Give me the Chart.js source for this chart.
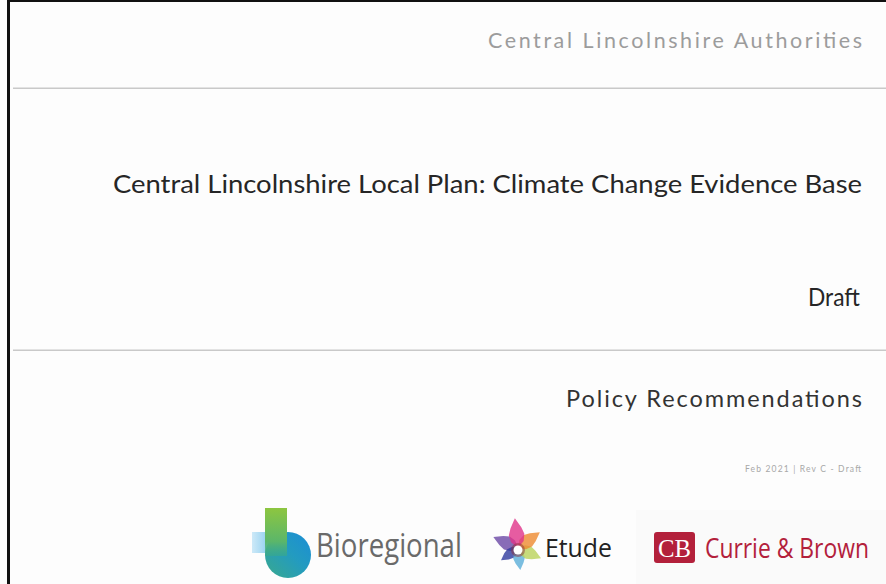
<!DOCTYPE html>
<html lang="en">
<head>
  <meta charset="UTF-8">
  <title>Central Lincolnshire Local Plan: Climate Change Evidence Base</title>
  <style>
    body {
      margin: 0;
      width: 886px;
      height: 584px;
      overflow: hidden;
      background: #fdfdfd;
      font-family: Lato, "Open Sans", sans-serif;
    }
    #cover {
      position: absolute;
      left: 0;
      top: 0;
    }
    #etudeMark {
      position: absolute;
      left: 488px;
      top: 518px;
    }
  </style>
</head>
<body>
  <svg id="cover" width="886" height="584" viewBox="0 0 886 584">
    <defs>
      <linearGradient id="stem" x1="0" y1="0" x2="0" y2="1">
        <stop offset="0" stop-color="#8dc640"/>
        <stop offset="0.7" stop-color="#5bb66a"/>
        <stop offset="1" stop-color="#38a98a" stop-opacity="0.6"/>
      </linearGradient>
      <linearGradient id="bowl" x1="0" y1="1" x2="1" y2="0">
        <stop offset="0" stop-color="#3aa98c"/>
        <stop offset="0.55" stop-color="#239bc0"/>
        <stop offset="1" stop-color="#1b8dd6"/>
      </linearGradient>
      <linearGradient id="tab" x1="0" y1="0" x2="1" y2="0">
        <stop offset="0" stop-color="#cde9f8"/>
        <stop offset="1" stop-color="#8ccdee"/>
      </linearGradient>
    </defs>

    <!-- frame -->
    <rect x="7" y="0" width="879" height="2" fill="#111"/>
    <rect x="7" y="0" width="3" height="584" fill="#111"/>

    <text x="488" y="48" font-size="21.5" fill="#9c9c9c" textLength="374">Central Lincolnshire Authorities</text>
    <rect x="13" y="87.5" width="873" height="1.5" fill="#c9c9c9"/>

    <text x="113" y="193" font-size="25" fill="#262626" textLength="749" lengthAdjust="spacingAndGlyphs">Central Lincolnshire Local Plan: Climate Change Evidence Base</text>
    <text x="808" y="306" font-size="25" fill="#262626" data-fit="52">Draft</text>
    <rect x="13" y="349.5" width="873" height="1.5" fill="#c9c9c9"/>

    <text x="566" y="407" font-size="23.5" fill="#333" textLength="296">Policy Recommendations</text>
    <text x="745" y="472" font-size="8.5" fill="#a8a8a8" textLength="116">Feb 2021  |  Rev C - Draft</text>

    <!-- Bioregional -->
    <rect x="252" y="532" width="18" height="21" fill="url(#tab)"/>
    <circle cx="288" cy="555" r="23" fill="url(#bowl)"/>
    <rect x="265" y="508" width="22" height="48" fill="url(#stem)"/>
    <text x="316" y="557" font-family="'Open Sans', sans-serif" font-size="33" fill="#6a6a6a" data-fit="146">Bioregional</text>

    <!-- Etude -->
    <text x="545" y="557" font-family="'Open Sans', sans-serif" font-size="26" fill="#222" data-fit="67">Etude</text>

    <!-- Currie & Brown -->
    <rect x="636" y="510" width="250" height="74" fill="#fafafa"/>
    <rect x="654" y="532" width="41" height="31" rx="3" fill="#b3203b"/>
    <text x="658" y="557" font-family="'Liberation Serif', serif" font-size="26" fill="#fff" data-fit="33">CB</text>
    <text x="705" y="558" font-family="'Open Sans', sans-serif" font-size="27" fill="#b3203b" data-fit="164">Currie &amp; Brown</text>
  </svg>

  <canvas id="etudeMark" width="60" height="60"></canvas>

  <script src="https://cdn.jsdelivr.net/npm/chart.js"></script>
  <script>
    // squeeze logo words to their width in the picture
    document.querySelectorAll('text[data-fit]').forEach(el => {
      const x = +el.getAttribute('x');
      const s = +el.dataset.fit / el.getComputedTextLength();
      el.setAttribute('transform', 'translate(' + x + ',0) scale(' + s + ',1) translate(' + (-x) + ',0)');
    });

    // Etude flower: six pointed petals, clockwise from the top
    const petalColors = ['#e0338a', '#ee8a2f', '#b9d25a', '#5aaed8', '#2e3a9e', '#6a47a5'];
    const petalTip = [1, 0.9, 0.84, 0.74, 0.7, 0.9];
    const petalShoulder = [0.7, 0.63, 0.59, 0.52, 0.49, 0.63];
    const petalBase = [0.52, 0.47, 0.44, 0.39, 0.36, 0.47];
    const petalFoot = [0.3, 0.27, 0.25, 0.22, 0.21, 0.27];
    const spokes = Array(24).fill('');

    function hexToRgba(hex, a) {
      const n = parseInt(hex.slice(1), 16);
      return 'rgba(' + (n >> 16) + ',' + ((n >> 8) & 255) + ',' + (n & 255) + ',' + a + ')';
    }

    const datasets = petalColors.map((c, k) => {
      const data = spokes.map(() => 0);
      const i = 4 * k;
      data[i] = petalTip[k];
      data[(i + 1) % 24] = petalShoulder[k];
      data[(i + 23) % 24] = petalShoulder[k];
      data[(i + 2) % 24] = petalBase[k];
      data[(i + 22) % 24] = petalBase[k];
      data[(i + 3) % 24] = petalFoot[k];
      data[(i + 21) % 24] = petalFoot[k];
      return {
        data: data,
        backgroundColor: hexToRgba(c, 0.8),
        borderWidth: 0,
        pointRadius: 0,
        fill: true,
        tension: 0
      };
    });

    // dark ring with white eye in the middle of the flower
    const eye = {
      id: 'eye',
      afterDatasetsDraw(chart) {
        const r = chart.scales.r;
        const ctx = chart.ctx;
        ctx.save();
        ctx.beginPath();
        ctx.arc(r.xCenter, r.yCenter + 2, 7, 0, Math.PI * 2);
        ctx.fillStyle = 'rgba(140, 50, 60, 0.5)';
        ctx.fill();
        ctx.beginPath();
        ctx.arc(r.xCenter, r.yCenter + 2, 4.5, 0, Math.PI * 2);
        ctx.fillStyle = '#fff';
        ctx.fill();
        ctx.restore();
      }
    };

    new Chart(document.getElementById('etudeMark'), {
      type: 'radar',
      data: { labels: spokes, datasets: datasets },
      options: {
        responsive: false,
        animation: false,
        layout: { padding: 0 },
        plugins: { legend: { display: false }, tooltip: { enabled: false } },
        scales: {
          r: {
            display: false,
            min: 0,
            max: 1,
            startAngle: -6,
            pointLabels: { display: false }
          }
        }
      },
      plugins: [eye]
    });
  </script>
</body>
</html>
